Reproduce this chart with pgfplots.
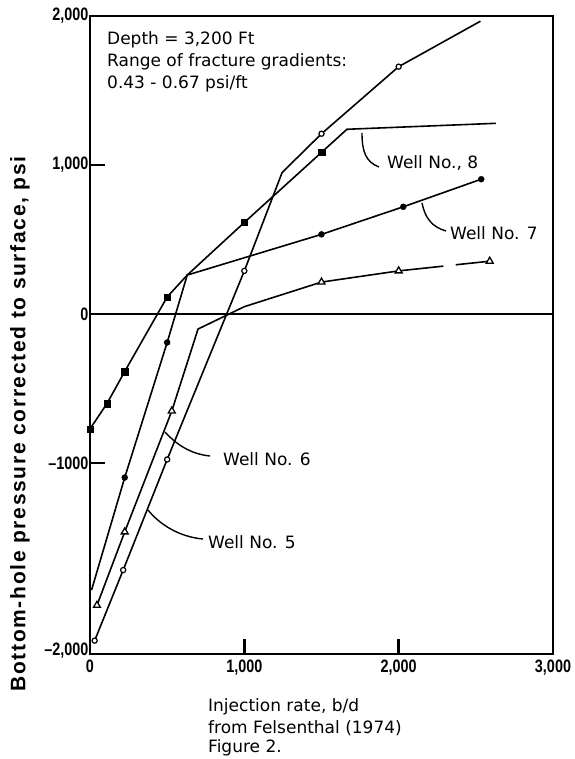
\documentclass[border=0pt]{standalone}
\usepackage{fontspec}
\setmainfont{DejaVu Sans}
\newfontfamily\tickfont{Liberation Sans}[FakeStretch=0.8]
\newfontfamily\ylabfont{Liberation Sans}[LetterSpace=8]
\usepackage{pgfplots}
\pgfplotsset{compat=1.18}
\begin{document}
\begin{tikzpicture}
\begin{axis}[
  scale only axis, width=463pt, height=638pt,
  xmin=0, xmax=3000, ymin=-2000, ymax=2000,
  y coord trafo/.code={\pgfmathparse{ifthenelse(#1 < -1000, -1000+(#1+1000)*1.28, #1)}},
  y coord inv trafo/.code={\pgfmathparse{ifthenelse(#1 < -1000, -1000+(#1+1000)/1.28, #1)}},
  axis line style={line width=2.4pt},
  tick align=inside, xtick pos=left, ytick pos=left,
  major tick length=15pt,
  every tick/.style={line width=2.4pt, black},
  xtick={0,1000,2000,3000}, xticklabels={0,{1,000},{2,000},{3,000}},
  ytick={-2000,-1000,0,1000,2000}, yticklabels={{\raisebox{9pt}{–2,000}},{–1000},0,{1,000},{2,000}},
  ticklabel style={font=\tickfont\bfseries\fontsize{18}{18}\selectfont, inner sep=1.5pt},
  xticklabel style={yshift=-4pt},
  clip=false,
]
% zero line
\addplot[line width=2pt, no marks] coordinates {(0,0) (3000,0)};
% Well 5 (open circles)
\addplot[line width=1.6pt, no marks] coordinates {(30,-1930) (215,-1560) (500,-975) (1000,290) (1245,950) (1500,1210) (2000,1660) (2530,1965)};
\addplot[only marks, mark=*, mark size=2.6pt, mark options={fill=white, draw=black, line width=1.2pt}] coordinates {(30,-1930) (215,-1560) (500,-975) (1000,290) (1500,1210) (2000,1660)};
% Well 6 (open triangles)
\addplot[line width=1.6pt, no marks] coordinates {(45,-1745) (225,-1360) (530,-650) (700,-100) (1000,50) (1500,215) (2000,290) (2290,322)};
\addplot[line width=1.6pt, no marks] coordinates {(2370,331) (2590,355)};
\addplot[only marks, mark=triangle*, mark size=4pt, mark options={fill=white, draw=black, line width=1.3pt}] coordinates {(45,-1745) (225,-1360) (530,-650) (1500,215) (2000,290) (2590,355)};
% Well 7 (filled circles)
\addplot[line width=1.6pt, no marks] coordinates {(10,-1665) (225,-1075) (500,-190) (630,262) (1500,535) (2030,720) (2535,905)};
\addplot[only marks, mark=*, mark size=3pt] coordinates {(225,-1075) (500,-190) (1500,535) (2030,720) (2535,905)};
% Well 8 (filled squares)
\addplot[line width=1.6pt, no marks] coordinates {(0,-770) (110,-600) (225,-385) (500,115) (630,262) (1000,615) (1500,1085) (1665,1240) (2630,1280)};
\addplot[only marks, mark=square*, mark size=3.2pt] coordinates {(0,-770) (110,-600) (225,-385) (500,115) (1000,615) (1500,1085)};
\end{axis}
\begin{scope}[shift={(current axis.south west)}, xshift=-90pt, yshift=654pt, x=1pt, y=-1pt]
  \begin{scope}[every node/.style={inner sep=0pt, anchor=west, font=\fontsize{17}{20}\selectfont}]
    \node at (107,40) {Depth = 3,200 Ft};
    \node at (107,62) {Range of fracture gradients:};
    \node at (107,84) {0.43 - 0.67 psi/ft};
    \node at (208,707) {Injection rate, b/d};
    \node at (208,728) {from Felsenthal (1974)};
    \node at (208,748) {Figure 2.};
    \node at (387,163) {Well No., 8};
    \node at (450,233) {Well No. 7};
    \node at (223,459) {Well No. 6};
    \node at (208,542) {Well No. 5};
  \end{scope}
  \begin{scope}[line width=1.4pt]
    \draw (362,133) .. controls (362,152) and (366,162) .. (379,167);
    \draw (422,203) .. controls (425,218) and (432,227) .. (446,231);
    \draw (165,432) .. controls (176,444) and (190,454) .. (210,456);
    \draw (148,510) .. controls (160,525) and (180,537) .. (203,539);
  \end{scope}
  \node[rotate=90, inner sep=0pt, font=\ylabfont\bfseries\fontsize{21}{21}\selectfont] at (20,424) {Bottom-hole pressure corrected to surface, psi};
  \pgfresetboundingbox
  \path[use as bounding box] (0,0) rectangle (574,759);
\end{scope}
\end{tikzpicture}
\end{document}
